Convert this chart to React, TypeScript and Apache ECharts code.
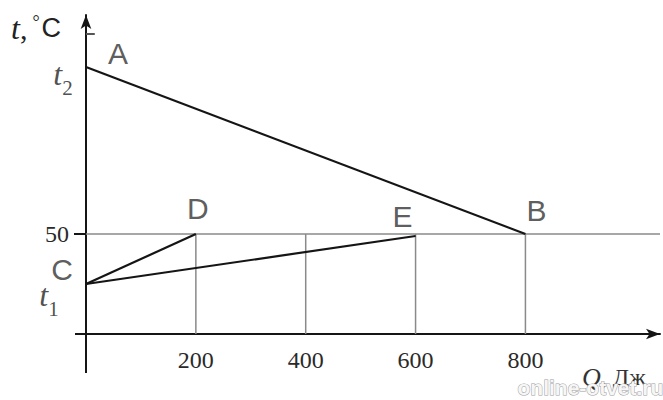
import React, { useEffect, useRef } from "react";
import * as echarts from "echarts";

// Values
const xTicks = [200, 400, 600, 800];
const yTicks = [50];
const t1 = 25;
const t2 = 133.5;
const level = 50;
const lineAB = [[0, t2], [800, 50]];
const lineCD = [[0, t1], [200, 50]];
const lineCE = [[0, t1], [600, 49]];
const gridVerticals = [200, 400, 600, 800];
const topTick = [[0, 150], [16, 150]];
const xAxisTail = [[-20, 0], [0, 0]];
const yAxisTail = [[0, 0], [0, -19.5]];

const pointNames = ["A", "B", "C", "D", "E"];
const pointCoords = [[0, t2], [800, 50], [0, t1], [200, 50], [600, 49]];
const pointOffsets = [[32, -14], [11, -24], [-24, -15], [2, -26], [-13, -20]];

const serif = "Liberation Serif";
const sans = "Liberation Sans";

export default function App() {
  const ref = useRef<HTMLDivElement>(null);
  useEffect(() => {
    if (!ref.current) return;
    const chart = echarts.init(ref.current, null, { renderer: "svg" });

    const black = "#151515";
    const gray = "#8a8a8a";

    const series: any[] = [];
    series.push({
      type: "line",
      data: [[0, level], [1045, level]],
      symbol: "none",
      clip: false,
      lineStyle: { color: gray, width: 1.5 },
      silent: true,
    });
    gridVerticals.forEach((x) =>
      series.push({
        type: "line",
        data: [[x, 0], [x, level]],
        symbol: "none",
        lineStyle: { color: gray, width: 1.5 },
        silent: true,
      })
    );
    [lineAB, lineCD, lineCE].forEach((d) =>
      series.push({
        type: "line",
        data: d,
        symbol: "none",
        lineStyle: { color: black, width: 2.2 },
        silent: true,
      })
    );

    const letterStyle = {
      fontFamily: sans,
      fontSize: 30,
      color: "#333",
    };
    const rich = {
      t: { fontFamily: serif, fontStyle: "italic", fontSize: 32, color: "#222", verticalAlign: "bottom", padding: [0, 0, 9, 0] },
      s: { fontFamily: serif, fontSize: 21, color: "#222", verticalAlign: "bottom" },
    };
    const labelData: any[] = pointNames.map((n, i) => ({
      value: pointCoords[i],
      label: { formatter: n, offset: pointOffsets[i], ...letterStyle },
    }));
    labelData.push({
      value: [0, t2],
      label: { formatter: "{t|t}{s|2}", offset: [-23, 11], rich },
    });
    labelData.push({
      value: [0, t1],
      label: { formatter: "{t|t}{s|1}", offset: [-37, 15], rich },
    });
    series.push({
      type: "scatter",
      symbolSize: 0,
      data: labelData,
      clip: false,
      label: { show: true, position: "inside" },
      silent: true,
    });

    const texts: any[] = [
      {
        id: "ytitle",
        type: "text",
        left: 11,
        top: 12,
        style: {
          text: "{t|t}{c|,}{d|°}{C|C}",
          rich: {
            t: { fontFamily: serif, fontStyle: "italic", fontSize: 32, fill: "#222" },
            c: { fontFamily: serif, fontSize: 30, fill: "#222" },
            d: { fontFamily: serif, fontSize: 18, fill: "#222", padding: [0, 2, 12, 5] },
            C: { fontFamily: sans, fontSize: 27, fill: "#222" },
          },
        },
      },
      {
        id: "xtitle",
        type: "text",
        left: 582,
        top: 364,
        style: {
          text: "{q|Q}{r|, Дж}",
          rich: {
            q: { fontFamily: serif, fontStyle: "italic", fontSize: 26, fill: "#333" },
            r: { fontFamily: serif, fontSize: 24, fill: "#333" },
          },
        },
      },
      {
        id: "wm",
        type: "text",
        left: 517,
        top: 376,
        z: 100,
        style: {
          text: "online-otvet.ru",
          font: 'bold 21px "Liberation Sans"',
          fill: "#f6f6f6",
          stroke: "#a0a0a0",
          lineWidth: 1,
        },
      },
    ];

    chart.setOption({
      animation: false,
      grid: {
        left: 86,
        right: 3,
        top: 15,
        bottom: 66,
        containLabel: false,
        outerBoundsMode: "none",
      },
      xAxis: {
        type: "value",
        min: 0,
        max: 1045,
        splitLine: { show: false },
        axisTick: { show: false },
        axisLine: {
          onZero: false,
          lineStyle: { color: black, width: 2 },
          symbol: ["none", "arrow"],
          symbolSize: [8, 14],
        },
        axisLabel: {
          customValues: xTicks,
          fontFamily: serif,
          fontSize: 24,
          color: "#2a2a2a",
          margin: 14,
        },
      },
      yAxis: {
        type: "value",
        min: 0,
        max: 159.5,
        splitLine: { show: false },
        axisTick: {
          show: true,
          customValues: yTicks,
          length: 12,
          lineStyle: { color: black, width: 2 },
        },
        axisLine: {
          onZero: false,
          lineStyle: { color: black, width: 2 },
          symbol: ["none", "arrow"],
          symbolSize: [8, 14],
        },
        axisLabel: {
          customValues: yTicks,
          fontFamily: serif,
          fontSize: 24,
          color: "#2a2a2a",
          margin: 17,
        },
      },
      graphic: texts,
      series,
    });

    // axis tails and the small top tick, placed through the chart's own scales
    const segs = [
      { seg: xAxisTail, color: black, w: 2 },
      { seg: yAxisTail, color: black, w: 2 },
      { seg: topTick, color: "#555", w: 2 },
    ];
    const extra = segs.map((s, i) => {
      const a = chart.convertToPixel({ gridIndex: 0 }, s.seg[0]) as number[];
      const b = chart.convertToPixel({ gridIndex: 0 }, s.seg[1]) as number[];
      return {
        id: "seg" + i,
        type: "line",
        z: 50,
        shape: { x1: a[0], y1: a[1], x2: b[0], y2: b[1] },
        style: { stroke: s.color, lineWidth: s.w },
        silent: true,
      };
    });
    chart.setOption({ graphic: [...texts, ...extra] });

    return () => chart.dispose();
  }, []);
  return (
    <div
      ref={ref}
      style={{ position: "fixed", left: 0, top: 0, width: 663, height: 400, background: "#fff" }}
    />
  );
}
